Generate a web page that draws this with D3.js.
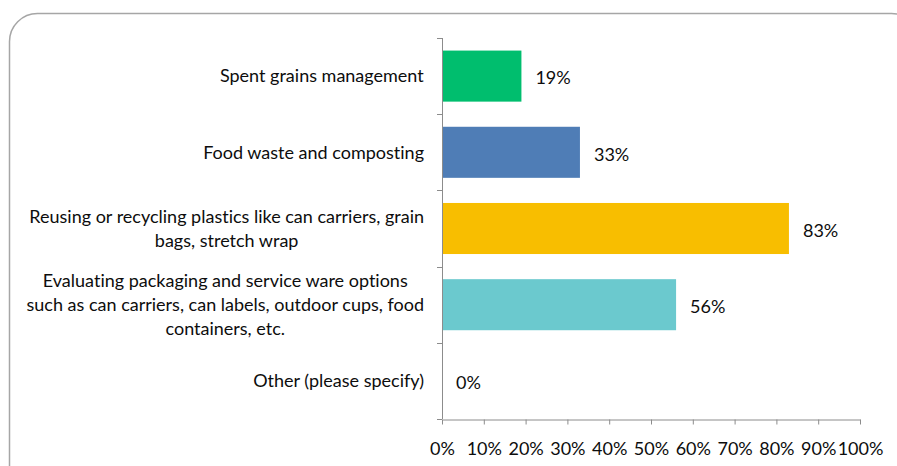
<!DOCTYPE html>
<html>
<head>
<meta charset="utf-8">
<script src="https://cdn.jsdelivr.net/npm/d3@7/dist/d3.min.js"></script>
<style>
  html, body { margin: 0; padding: 0; background: #fff; }
  svg { display: block; }
  text { font-family: Lato, "Open Sans", sans-serif; fill: #0d0d0d; font-variant-ligatures: none; }
</style>
</head>
<body>
<svg id="chart" width="897" height="466"></svg>
<script>
// Survey responses: sustainability initiatives
const categories = [
  "Spent grains management",
  "Food waste and composting",
  "Reusing or recycling plastics like can carriers, grain\nbags, stretch wrap",
  "Evaluating packaging and service ware options\nsuch as can carriers, can labels, outdoor cups, food\ncontainers, etc.",
  "Other (please specify)"
];
const values = [0.19, 0.33, 0.83, 0.56, 0.00];
const colors = ["#00be6e", "#4f7db6", "#f8be00", "#6bc9ce", "#999999"];
const xTicks = [0, 0.1, 0.2, 0.3, 0.4, 0.5, 0.6, 0.7, 0.8, 0.9, 1.0];

const svg = d3.select("#chart");
const fontSize = 18;

// Rounded frame around the chart area
svg.append("rect")
  .attr("x", 9.5).attr("y", 13.5)
  .attr("width", 910).attr("height", 490)
  .attr("rx", 28).attr("ry", 28)
  .attr("fill", "none")
  .attr("stroke", "#a6a6a6")
  .attr("stroke-width", 1.5);

const plotLeft = 442, plotRight = 860, plotTop = 38, plotBottom = 419;

const x = d3.scaleLinear().domain([0, 1]).range([plotLeft, plotRight]);
const y = d3.scaleBand().domain(d3.range(categories.length)).range([plotTop, plotBottom]).paddingInner(0.33).paddingOuter(0.165);
const band = d3.scaleBand().domain(d3.range(categories.length)).range([plotTop, plotBottom]);

// Bars
svg.append("g").selectAll("rect")
  .data(values)
  .join("rect")
  .attr("x", x(0))
  .attr("y", (d, i) => y(i))
  .attr("width", d => x(d) - x(0))
  .attr("height", y.bandwidth())
  .attr("fill", (d, i) => colors[i]);

// Value labels
svg.append("g").selectAll("text")
  .data(values)
  .join("text")
  .attr("x", d => x(d) + 14)
  .attr("y", (d, i) => y(i) + y.bandwidth() / 2 + 2)
  .attr("dy", "0.35em")
  .attr("font-size", fontSize)
  .text(d => d3.format(".0%")(d));

// Category axis line and ticks at band edges
const axisColor = "#8c8c8c";
svg.append("line")
  .attr("x1", plotLeft + 0.5).attr("x2", plotLeft + 0.5)
  .attr("y1", plotTop).attr("y2", plotBottom)
  .attr("stroke", axisColor);
svg.append("g").selectAll("line")
  .data(d3.range(categories.length + 1))
  .join("line")
  .attr("x1", plotLeft - 5).attr("x2", plotLeft)
  .attr("y1", i => Math.round(plotTop + i * band.bandwidth()) + 0.5)
  .attr("y2", i => Math.round(plotTop + i * band.bandwidth()) + 0.5)
  .attr("stroke", axisColor);

// Category labels
const labelG = svg.append("g");
categories.forEach((c, i) => {
  const lines = c.split("\n");
  const lh = 24;
  const cy = band(i) + band.bandwidth() / 2;
  const t = labelG.append("text")
    .attr("text-anchor", "middle")
    .attr("font-size", fontSize);
  lines.forEach((ln, j) => {
    t.append("tspan")
      .attr("x", 0)
      .attr("y", cy + (j - (lines.length - 1) / 2) * lh)
      .attr("dy", "0.35em")
      .text(ln);
  });
  // right-align the block to the axis while centring its lines
  const w = t.node().getBBox().width;
  t.selectAll("tspan").attr("x", 424 - w / 2);
});

// Value axis
const xAxis = d3.axisBottom(x)
  .tickValues(xTicks)
  .tickFormat(d3.format(".0%"))
  .tickSize(5)
  .tickSizeOuter(0);
const gx = svg.append("g")
  .attr("transform", `translate(0,${plotBottom + 0.5})`)
  .call(xAxis);
gx.select(".domain").attr("stroke", axisColor);
gx.selectAll(".tick line").attr("stroke", axisColor);
gx.selectAll(".tick text")
  .attr("font-family", "Lato, 'Open Sans', sans-serif")
  .attr("font-size", fontSize)
  .attr("fill", "#0d0d0d")
  .attr("dy", "1.55em");
</script>
</body>
</html>
